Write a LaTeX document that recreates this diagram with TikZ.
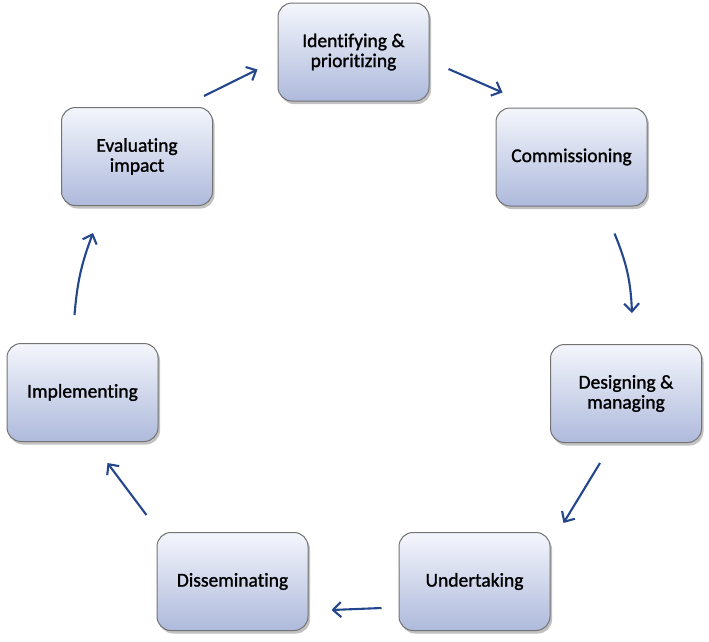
\documentclass[tikz,border=0pt]{standalone}
\usepackage{fontspec}
\setmainfont{Carlito}[Ligatures={NoCommon}, FakeBold=1.3]
\usetikzlibrary{shadows,arrows.meta,calc}
\definecolor{arrowblue}{RGB}{36,70,140}
\definecolor{boxtop}{RGB}{244,246,252}
\definecolor{boxbot}{RGB}{174,186,220}
\definecolor{boxline}{RGB}{115,115,115}
\begin{document}
\begin{tikzpicture}[x=1pt,y=-1pt,
  stepbox/.style={draw=boxline, line width=1pt, rounded corners=14pt,
    top color=boxtop, bottom color=boxbot,
    minimum width=151pt, minimum height=98pt, inner sep=2pt,
    align=center, font=\fontsize{19.5}{20}\selectfont,
    drop shadow={shadow xshift=2pt, shadow yshift=-3pt, opacity=0.35, fill=black!70}},
  flow/.style={draw=arrowblue, line width=2.1pt,
    -{Straight Barb[length=8pt,width=15pt,line width=2.1pt]}}]
\useasboundingbox (0,0) rectangle (709,641);

\node[stepbox] (id) at (353.5,52) {Identifying \&\\prioritizing};
\node[stepbox] (cm) at (571.5,157) {Commissioning};
\node[stepbox] (de) at (626,393.5) {Designing \&\\managing};
\node[stepbox] (ut) at (474.5,581.5) {Undertaking};
\node[stepbox] (ds) at (232.5,581.5) {Disseminating};
\node[stepbox] (im) at (82.5,392.5) {Implementing};
\node[stepbox] (ev) at (137,156.5) {Evaluating\\impact};

\draw[flow] ($(ev.north east)+(-9,-11)$) -- ($(id.south west)+(-20,-32)$);
\draw[flow] ($(id.east)+(19,17)$) -- ($(cm.north west)+(7,-15)$);
\draw[flow] ($(cm.south east)+(-33,27)$) to[bend left=10] ($(de.north)+(6,-31)$);
\draw[flow] ($(de.south)+(-26,20)$) -- ($(ut.north east)+(13,-9)$);
\draw[flow] ($(ut.west)+(-17,26.5)$) -- ($(ds.east)+(23,28.5)$);
\draw[flow] ($(ds.north west)+(-10,-17)$) -- ($(im.south)+(25,21)$);
\draw[flow] ($(im.north)+(-8,-28)$) to[bend left=8] ($(ev.south)+(-44,27)$);
\end{tikzpicture}
\end{document}
